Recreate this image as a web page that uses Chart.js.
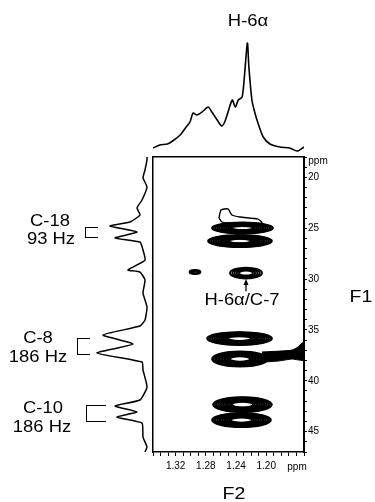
<!DOCTYPE html>
<html>
<head>
<meta charset="utf-8">
<script src="https://cdn.jsdelivr.net/npm/chart.js@4.4.1/dist/chart.umd.min.js"></script>
<style>
  body { margin: 0; background: #fff; }
  #wrap { position: relative; width: 375px; height: 502px; overflow: hidden;
          font-family: "Liberation Sans", Arial, sans-serif; color: #000; }
  canvas { position: absolute; left: 0; top: 0; }
  .lbl { position: absolute; font-size: 16px; line-height: 16px; white-space: nowrap;
         transform: translate(-50%, -50%) scaleX(1.15); }
  .big { font-size: 17px; line-height: 17px; }
  .brk { position: absolute; border: 1.5px solid #000; border-right: none; box-sizing: border-box; }
</style>
</head>
<body>
<div id="wrap">
  <canvas id="topChart" width="375" height="502"></canvas>
  <canvas id="leftChart" width="375" height="502"></canvas>
  <canvas id="mainChart" width="375" height="502"></canvas>

  <div class="lbl" style="left:248px; top:21px;">H-6α</div>
  <div class="lbl" style="left:50px; top:221px;">C-18</div>
  <div class="lbl" style="left:51px; top:239px;">93 Hz</div>
  <div class="lbl" style="left:38px; top:338px;">C-8</div>
  <div class="lbl" style="left:38px; top:357px;">186 Hz</div>
  <div class="lbl" style="left:43px; top:408px;">C-10</div>
  <div class="lbl" style="left:42px; top:427px;">186 Hz</div>
  <div class="lbl" style="left:242px; top:300px;">H-6α/C-7</div>
  <div class="lbl big" style="left:361px; top:296px;">F1</div>
  <div class="lbl big" style="left:234px; top:493px;">F2</div>
  <div class="lbl" style="left:318px; top:161px; font-size:10px; transform:translate(-50%,-50%);">ppm</div>
  <div class="lbl" style="left:297px; top:467px; font-size:10px; transform:translate(-50%,-50%);">ppm</div>

  <div class="brk" style="left:85px; top:227px; width:13px; height:11px;"></div>
  <div class="brk" style="left:77px; top:338px; width:13px; height:17px;"></div>
  <div class="brk" style="left:86px; top:405px; width:20px; height:17px;"></div>
</div>

<script>
// F2 (1H) projection on top
const f2Ppm = [1.350, 1.341, 1.331, 1.324, 1.314, 1.307, 1.301, 1.297, 1.292, 1.285, 1.277, 1.272,
               1.265, 1.259, 1.255, 1.251, 1.245, 1.241, 1.237, 1.232, 1.229, 1.225, 1.223, 1.219,
               1.215, 1.211, 1.204, 1.195, 1.182, 1.169, 1.159, 1.150];
const f2Int = [4, 7, 8, 11, 17, 24, 30, 39, 37, 40, 45, 40,
               32, 26, 30, 39, 52, 45, 52, 55, 75, 109, 85, 52,
               39, 29, 15, 8, 5, 4, 1, 5];

// F1 (13C) projection on the left
const f1Ppm = [18.0, 18.29, 19.28, 20.06, 20.95, 22.23, 23.01, 23.70, 24.39, 24.78, 25.37, 25.96,
               26.36, 27.14, 28.13, 28.82, 29.11, 29.31, 30.09, 31.37, 32.75, 34.03, 34.62, 35.50,
               36.39, 37.27, 38.16, 38.94, 40.62, 41.89, 42.48, 43.07, 43.57, 44.16, 45.53, 46.51, 47.0];
const f1Int = [3, 3, 5, 7, 3, 8, 13, 10, 20, 40, 13, 35,
               10, 7, 5, 17, 22, 10, 5, 7, 3, 5, 10, 47,
               17, 53, 8, 7, 3, 10, 35, 13, 33, 8, 7, 3, 5];

// axis labels
const f2TickLabels = [1.32, 1.28, 1.24, 1.20];
const f1TickLabels = [20, 25, 30, 35, 40, 45];

// cross peaks: C-18 pair, small peak, H-6a/C-7, C-8 pair, C-10 pair
const peakF2 = [1.2315, 1.2348, 1.2944, 1.2268, 1.2354, 1.2348, 1.2315, 1.2328];
const peakF1 = [24.98, 26.26, 29.31, 29.41, 35.85, 37.86, 42.34, 43.86];
const peakW = [0.0404, 0.0424, 0.0073, 0.0212, 0.043, 0.037, 0.039, 0.039];
const peakH = [0.54, 0.59, 0.2, 0.54, 0.64, 0.74, 0.74, 0.69];
const peakLevels = [12, 13, 3, 5, 13, 13, 12, 12];

// open contour above the C-18 peaks
const outlineF2 = [1.2626, 1.2599, 1.2507, 1.2454, 1.2348, 1.2109, 1.2056, 1.2215, 1.2520, 1.2586, 1.2626];
const outlineF1 = [24.0, 23.21, 23.11, 23.70, 23.90, 24.10, 24.49, 24.78, 24.49, 24.39, 24.0];

// ridge running off the C-8 peak to the right
const tailF2 = [1.2056, 1.1818, 1.1659, 1.1579, 1.1526, 1.15, 1.15, 1.1659, 1.1844, 1.2056];
const tailF1 = [37.17, 37.08, 36.98, 36.68, 36.29, 36.19, 37.96, 37.86, 38.06, 38.16];

// arrow to H-6a/C-7
const arrowF2 = 1.2268;
const arrowFrom = 31.2;
const arrowTo = 30.0;

Chart.defaults.font.family = '"Liberation Sans", Arial, sans-serif';
Chart.defaults.color = '#000';

const noPlugins = { legend: { display: false }, tooltip: { enabled: false } };
const pts = (xs, ys) => xs.map((v, i) => ({ x: v, y: ys[i] }));

// top trace
new Chart(document.getElementById('topChart'), {
    type: 'scatter',
    data: { datasets: [{
        data: pts(f2Ppm, f2Int), showLine: true, borderColor: '#000', borderWidth: 1.6,
        pointRadius: 0, tension: 0.25
    }] },
    options: {
        responsive: false, animation: false, events: [],
        layout: { padding: { left: 153, right: 71, top: 40, bottom: 350 } },
        plugins: noPlugins,
        scales: {
            x: { type: 'linear', reverse: true, min: 1.15, max: 1.35, display: false },
            y: { type: 'linear', min: 0, max: 112, display: false }
        }
    }
});

// left trace
new Chart(document.getElementById('leftChart'), {
    type: 'scatter',
    data: { datasets: [{
        data: pts(f1Int, f1Ppm), showLine: true, borderColor: '#000', borderWidth: 1.5,
        pointRadius: 0, tension: 0.15
    }] },
    options: {
        responsive: false, animation: false, events: [],
        layout: { padding: { left: 90, right: 225, top: 157, bottom: 50 } },
        plugins: noPlugins,
        scales: {
            x: { type: 'linear', reverse: true, min: 0, max: 60, display: false },
            y: { type: 'linear', reverse: true, min: 18, max: 47, display: false }
        }
    }
});

// contour peaks + arrow
const contourPlugin = {
    id: 'contours',
    afterDatasetsDraw(chart) {
        const { ctx, chartArea, scales: { x, y } } = chart;
        ctx.save();
        ctx.beginPath();
        ctx.rect(chartArea.left, chartArea.top, chartArea.width, chartArea.height);
        ctx.clip();
        ctx.strokeStyle = '#000';
        ctx.lineWidth = 1.8;
        peakF2.forEach((p, i) => {
            const cx = x.getPixelForValue(p);
            const cy = y.getPixelForValue(peakF1[i]);
            const rx = Math.abs(x.getPixelForValue(p + peakW[i]) - cx);
            const ry = Math.abs(y.getPixelForValue(peakF1[i] + peakH[i]) - cy);
            const n = peakLevels[i];
            for (let k = 0; k < n; k++) {
                const s = 1 - 0.7 * k / n;
                ctx.beginPath();
                ctx.ellipse(cx, cy, rx * s, ry * s, 0, 0, Math.PI * 2);
                ctx.stroke();
            }
        });
        ctx.restore();

        const ax = x.getPixelForValue(arrowF2);
        const a0 = y.getPixelForValue(arrowFrom);
        const a1 = y.getPixelForValue(arrowTo);
        ctx.save();
        ctx.strokeStyle = '#000';
        ctx.fillStyle = '#000';
        ctx.lineWidth = 1.3;
        ctx.beginPath();
        ctx.moveTo(ax, a0);
        ctx.lineTo(ax, a1 + 4);
        ctx.stroke();
        ctx.beginPath();
        ctx.moveTo(ax, a1);
        ctx.lineTo(ax - 2.5, a1 + 6);
        ctx.lineTo(ax + 2.5, a1 + 6);
        ctx.closePath();
        ctx.fill();
        ctx.restore();
    }
};

const frame = { display: true, color: '#000', width: 1.5 };

new Chart(document.getElementById('mainChart'), {
    type: 'scatter',
    data: { datasets: [
        { data: pts(outlineF2, outlineF1), showLine: true, borderColor: '#000', borderWidth: 1.4,
          pointRadius: 0, tension: 0.2 },
        { data: pts(tailF2, tailF1), showLine: true, borderColor: '#000', borderWidth: 1,
          backgroundColor: '#000', fill: 'shape', pointRadius: 0, tension: 0.2 }
    ] },
    options: {
        responsive: false, animation: false, events: [],
        layout: { padding: { left: 153, top: 157, right: 31, bottom: 25 } },
        plugins: noPlugins,
        scales: {
            x: {
                type: 'linear', position: 'bottom', reverse: true, min: 1.15, max: 1.35,
                afterFit(s) { s.height = 25; },
                border: frame,
                grid: { drawOnChartArea: false, drawTicks: true, tickLength: 4, color: '#000' },
                ticks: {
                    stepSize: 0.01, autoSkip: false, maxRotation: 0, padding: 4,
                    font: { size: 10 },
                    callback: v => f2TickLabels.some(t => Math.abs(t - v) < 1e-6) ? v.toFixed(2) : ''
                }
            },
            y: {
                type: 'linear', position: 'right', reverse: true, min: 18, max: 47,
                afterFit(s) { s.width = 40; },
                border: { display: true, color: '#000', width: 2 },
                grid: { drawOnChartArea: false, drawTicks: true, tickLength: 3, color: '#000' },
                ticks: {
                    stepSize: 1, autoSkip: false, padding: 1, font: { size: 10 },
                    callback: v => f1TickLabels.includes(Math.round(v)) ? String(Math.round(v)) : ''
                }
            },
            xTop: {
                type: 'linear', position: 'top', min: 1.15, max: 1.35,
                afterFit(s) { s.height = 0; },
                border: frame, grid: { display: false, drawTicks: false }, ticks: { display: false }
            },
            yLeft: {
                type: 'linear', position: 'left', min: 18, max: 47,
                afterFit(s) { s.width = 0; },
                border: frame, grid: { display: false, drawTicks: false }, ticks: { display: false }
            }
        }
    },
    plugins: [contourPlugin]
});
</script>
</body>
</html>
